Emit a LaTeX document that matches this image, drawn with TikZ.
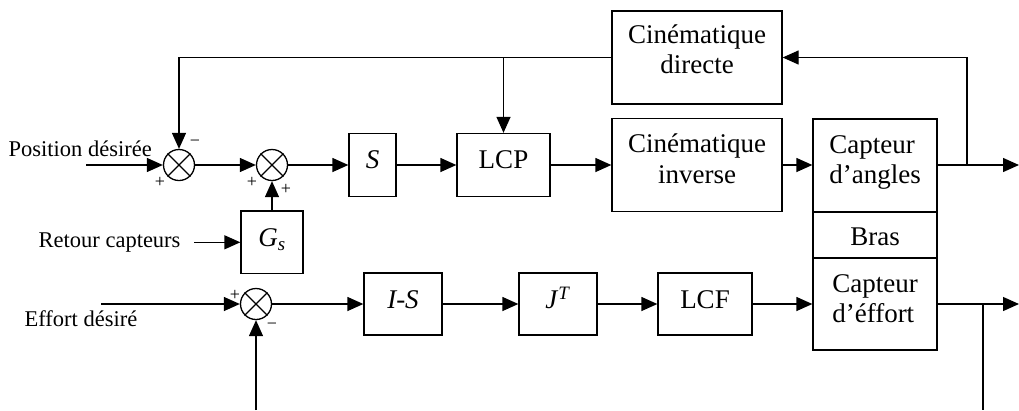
\documentclass[tikz,border=0pt]{standalone}
\usepackage{fontspec}
\setmainfont{Liberation Serif}
\usetikzlibrary{arrows.meta}
\begin{document}
\begin{tikzpicture}[x=1pt,y=-1pt,line width=1.3pt,
  box/.style={draw, inner sep=0pt, font=\fontsize{27}{30.5}\selectfont},
  sumj/.style={draw, circle, minimum size=31pt, inner sep=0pt},
  lbl/.style={font=\fontsize{22.5}{27}\selectfont, anchor=base west, inner sep=0pt},
  sgn/.style={font=\fontsize{18}{20}\selectfont, inner sep=0pt},
  arr/.style={-{Triangle[length=16pt,width=14pt]}}]
\useasboundingbox (0,0) rectangle (1019,410);

% blocks of the position loop
\node[box, minimum width=170pt, minimum height=93pt, text height=0pt, text depth=28.4pt]
  (dir) at (697,57.5) {\begin{tabular}[t]{@{}c@{}}Cinématique\\directe\end{tabular}};
\node[box, minimum width=170pt, minimum height=93pt, text height=0pt, text depth=24.4pt]
  (inv) at (697,165) {\begin{tabular}[t]{@{}c@{}}Cinématique\\inverse\end{tabular}};
\node[box, minimum width=47pt, minimum height=63pt, text height=7.6pt, text depth=0pt]
  (S) at (372.5,165) {\textit{S}};
\node[box, minimum width=93pt, minimum height=63pt, text height=7.6pt, text depth=0pt]
  (lcp) at (503.5,165) {LCP};
\node[box, minimum width=62pt, minimum height=62.7pt, text height=8.8pt, text depth=0pt]
  (gs) at (272,242.3) {\textit{G}\textsubscript{\textit{s}}};

% arm with its sensors
\node[box, minimum width=124pt, minimum height=93pt, text height=0pt, text depth=24.4pt]
  (ang) at (875,165.5) {\begin{tabular}[t]{@{}l@{}}Capteur\\d’angles\end{tabular}};
\node[box, minimum width=124pt, minimum height=46pt, text height=20pt, text depth=0pt]
  (bras) at (875,235) {Bras};
\node[box, minimum width=124pt, minimum height=92pt, text height=0pt, text depth=24pt]
  (eff) at (875,304) {\begin{tabular}[t]{@{}l@{}}Capteur\\d’éffort\end{tabular}};

% blocks of the force loop
\node[box, minimum width=78pt, minimum height=62pt, text height=8.6pt, text depth=0pt]
  (is) at (403,304) {\textit{I-S}};
\node[box, minimum width=78pt, minimum height=62pt, text height=8.6pt, text depth=0pt]
  (jt) at (558,304) {\textit{J}\textsuperscript{\textit{T}}};
\node[box, minimum width=94pt, minimum height=62pt, text height=8.6pt, text depth=0pt]
  (lcf) at (705,304) {LCF};

% summing junctions
\node[sumj] (s1) at (179,165) {};
\node[sumj] (s2) at (272,165) {};
\node[sumj] (s3) at (256,304) {};
\foreach \s in {s1,s2,s3}
  \draw (\s.north west) -- (\s.south east) (\s.north east) -- (\s.south west);

% input labels
\node[lbl] (lpos) at (8,156.7) {Position désirée};
\node[lbl] (lret) at (38,247.7) {Retour capteurs};
\node[lbl] (leff) at (24,326) {Effort désiré};

% signs
\node[sgn] (m1) at (195,143) {−};
\node[sgn] (p1) at (160,182) {+};
\node[sgn] (p2) at (252,182) {+};
\node[sgn] (p3) at (286,189.5) {+};
\node[sgn] (p4) at (235,295) {+};
\node[sgn] (m2) at (272,326) {−};

% free ends
\coordinate (inpos) at (86,165);
\coordinate (inret) at (194,242.3);
\coordinate (ineff) at (101,304);
\coordinate (out1) at (1019,165);
\coordinate (out2) at (1019,304);
\coordinate (tap1) at (967,165);
\coordinate (tap2) at (983,304);
\coordinate (bot1) at (983,410);
\coordinate (bot2) at (256,410);
\coordinate (fbk) at (179,57.5);
\coordinate (fbl) at (503.5,57.5);

% position loop connectors
\draw[arr] (inpos) -- (s1.west);
\draw[arr] (s1.east) -- (s2.west);
\draw[arr] (s2.east) -- (S.west);
\draw[arr] (S.east) -- (lcp.west);
\draw[arr] (lcp.east) -- (inv.west);
\draw[arr] (inv.east) -- (ang.west |- inv.east);
\draw[arr] (ang.east |- out1) -- (out1);
\draw[arr] (tap1) |- (dir.east);
\draw[arr] (dir.west) -- (fbk) -- (s1.north);
\draw[arr] (fbl) -- (lcp.north);
\draw[arr] (inret) -- (gs.west);
\draw[arr] (gs.north) -- (s2.south);

% force loop connectors
\draw[arr] (ineff) -- (s3.west);
\draw[arr] (s3.east) -- (is.west);
\draw[arr] (is.east) -- (jt.west);
\draw[arr] (jt.east) -- (lcf.west);
\draw[arr] (lcf.east) -- (eff.west);
\draw[arr] (eff.east) -- (out2);
\draw (tap2) -- (bot1);
\draw[arr] (bot2) -- (s3.south);
\end{tikzpicture}
\end{document}
